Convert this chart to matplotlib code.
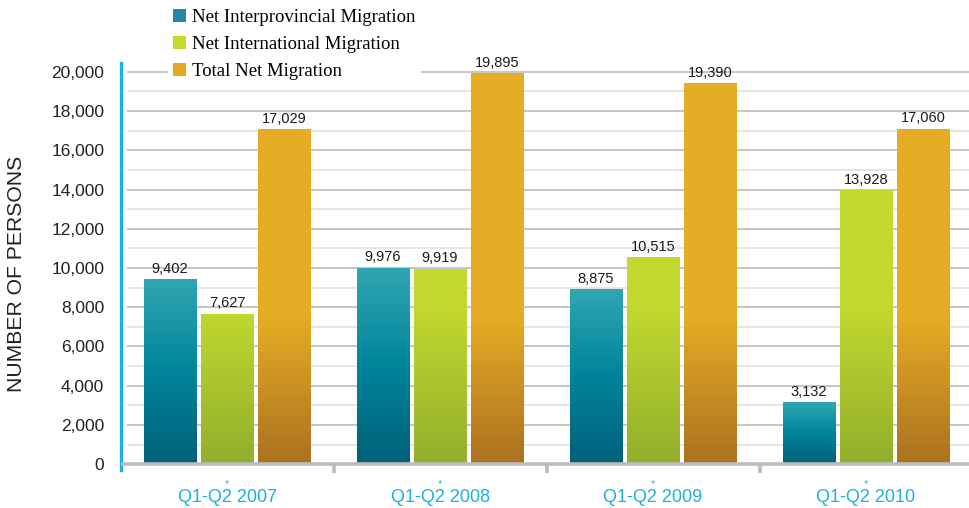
import numpy as np
import matplotlib.pyplot as plt
from matplotlib.colors import LinearSegmentedColormap
from matplotlib.patches import Patch

periods = ['Q1-Q2 2007', 'Q1-Q2 2008', 'Q1-Q2 2009', 'Q1-Q2 2010']
interprovincial = [9402, 9976, 8875, 3132]
international = [7627, 9919, 10515, 13928]
total = [17029, 19895, 19390, 17060]
series_names = ['Net Interprovincial Migration', 'Net International Migration', 'Total Net Migration']
y_ticks = list(range(0, 20001, 2000))
grid_levels = list(range(1000, 20001, 1000))

sans = 'Liberation Sans'
cyan = '#1bb1de'

# legend swatch colour, gradient (bottom -> top), value where the gradient stops (None = whole bar)
styles = [
    ('#26879f', ['#00607a', '#00849a', '#30a6b2'], None),
    ('#c4da2c', ['#92ae2c', '#c2d92f'], 8000),
    ('#e5a823', ['#ab711f', '#e6ac25'], 7500),
]


def shade(ax, bar, cmap, knee):
    x0, w, h = bar.get_x(), bar.get_width(), bar.get_height()
    ys = np.linspace(0, h, 300)
    t = ys / h if knee is None else np.clip(ys / knee, 0, 1)
    ax.imshow(t[:, None], cmap=cmap, vmin=0, vmax=1, origin='lower',
              extent=(x0, x0 + w, 0, h), aspect='auto', zorder=2,
              interpolation='bilinear')


fig = plt.figure(figsize=(9.7, 5.08), dpi=100)
ax = fig.add_axes([121 / 970, 38 / 508, 849 / 970, 407 / 508])

x = np.arange(len(periods))
width = 0.245
offsets = [-0.268, 0, 0.268]

for lvl in grid_levels:
    col = '#c2c2c2' if lvl % 2000 == 0 else '#e4e4e4'
    ax.hlines(lvl, -0.47, 3.6, color=col, lw=1.3, zorder=0)

for vals, off, (sw, stops, knee) in zip([interprovincial, international, total], offsets, styles):
    cmap = LinearSegmentedColormap.from_list('g', stops)
    bars = ax.bar(x + off, vals, width, color=sw, zorder=1)
    for b, v in zip(bars, vals):
        shade(ax, b, cmap, knee)
        ax.annotate(f'{v:,}', (b.get_x() + b.get_width() / 2, v), xytext=(0, 3),
                    textcoords='offset points', ha='center', va='bottom',
                    fontsize=10.5, family=sans, color='#1a1a1a')

ax.axhline(0, color='#bcbcbc', lw=2.6, zorder=3)
ax.vlines([0.5, 1.5, 2.5], -470, 0, color='#bcbcbc', lw=2.6, zorder=3, clip_on=False)

ax.set_xlim(-0.498, 3.488)
ax.set_ylim(-300, 20450)

for s in ['top', 'right', 'bottom']:
    ax.spines[s].set_visible(False)
ax.spines['left'].set_color(cyan)
ax.spines['left'].set_linewidth(2.4)

ax.set_yticks(y_ticks)
ax.set_yticklabels([f'{v:,}' for v in y_ticks], family=sans, fontsize=12.5, color='#222222')
ax.set_xticks(x)
ax.set_xticklabels(periods, family=sans, fontsize=13, color=cyan)
ax.tick_params(axis='y', length=0, pad=12)
ax.tick_params(axis='x', length=0, pad=14)

# small superscript asterisk above each period label
for xi in x:
    ax.annotate('*', (xi, 0), xycoords=('data', 'axes fraction'), xytext=(0, -13.6),
                textcoords='offset points', ha='center', va='bottom',
                fontsize=8, color=cyan, family=sans)

fig.text(17 / 970, 0.46, 'NUMBER OF PERSONS', rotation=90, ha='center', va='center',
         fontsize=15.2, family=sans, color='#222222')

handles = [Patch(facecolor=s[0]) for s in styles]
leg = ax.legend(handles, series_names, loc='upper left', bbox_to_anchor=(168 / 970, 1 - 4 / 508),
                bbox_transform=fig.transFigure, prop={'family': 'Liberation Serif', 'size': 13.5},
                handlelength=0.7, handleheight=0.7, handletextpad=0.35, labelspacing=0.54,
                borderpad=0.25, borderaxespad=0, frameon=True, fancybox=False)
leg.get_frame().set_facecolor('white')
leg.get_frame().set_edgecolor('none')
leg.get_frame().set_alpha(1)
leg.set_zorder(5)

fig.savefig('out.png', dpi=100)
